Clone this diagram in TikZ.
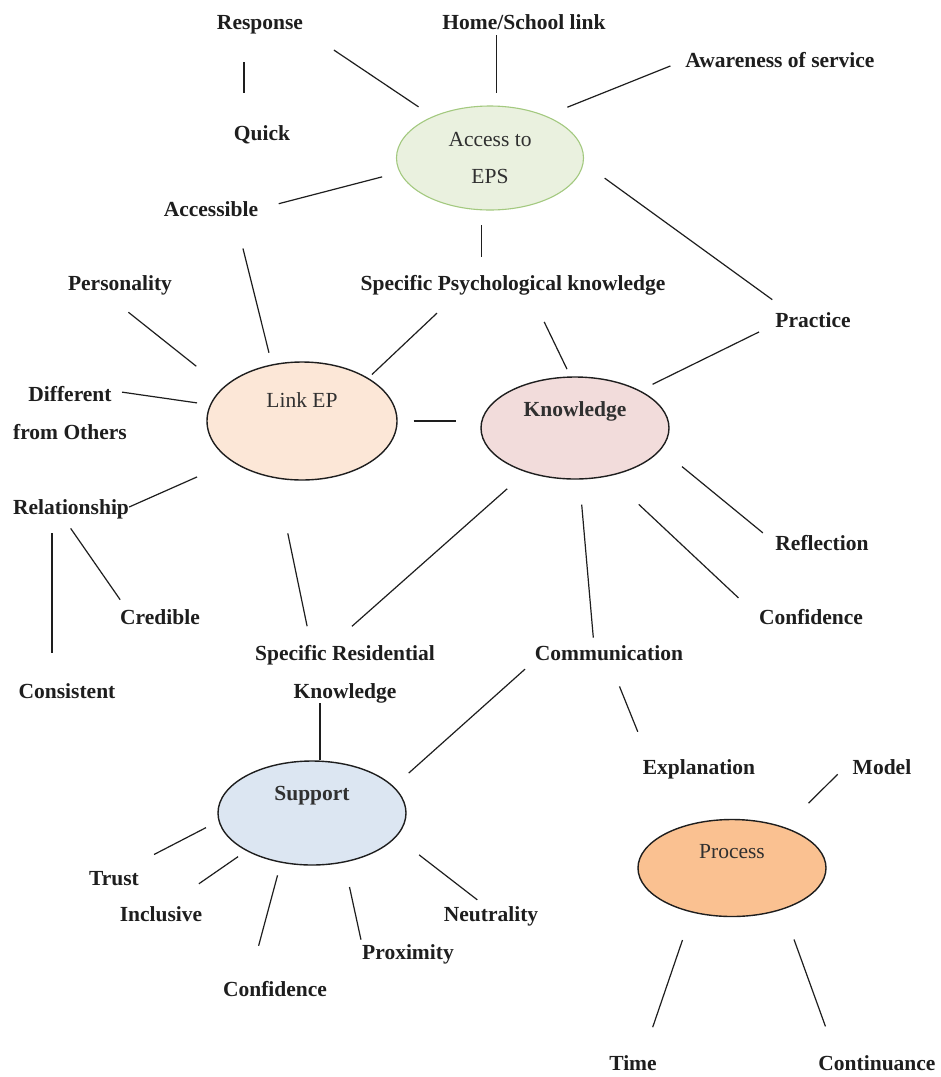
\documentclass[tikz,border=0pt]{standalone}
\usepackage{fontspec}
\setmainfont{Liberation Serif}
\usetikzlibrary{shapes.geometric}
\definecolor{epsfill}{HTML}{EAF1DF}
\definecolor{epsline}{HTML}{A3C97F}
\definecolor{linkfill}{HTML}{FCE7D7}
\definecolor{knowfill}{HTML}{F2DCDB}
\definecolor{suppfill}{HTML}{DCE6F2}
\definecolor{procfill}{HTML}{FAC191}
\definecolor{ink}{HTML}{1E1E1E}

\begin{document}
\begin{tikzpicture}[x=1pt,y=-1pt,
  oval/.style={ellipse,draw=ink,line width=1.4pt,inner sep=0pt,minimum width=188pt,minimum height=104pt},
  ovaltext/.style={font=\fontsize{21.5}{37}\selectfont,text=ink!92},
  tag/.style={font=\bfseries\fontsize{21.5}{38}\selectfont,text=ink,inner sep=0pt,text height=14.5pt,text depth=0pt},
  tags/.style={font=\bfseries\fontsize{21.5}{38}\selectfont,text=ink,inner sep=0pt,align=center},
  link/.style={draw=ink,line width=1.2pt}]
\useasboundingbox[fill=white] (0,0) rectangle (941,1077);

\node[oval,ovaltext,align=center,draw=epsline,line width=1.1pt,fill=epsfill,minimum width=187pt] (eps) at (490,158) {Access to\\EPS};
\node[oval,fill=linkfill,minimum width=190pt,minimum height=118pt,label={[ovaltext,yshift=21pt]center:Link EP}] (linkep) at (302,421) {};
\node[oval,fill=knowfill,minimum height=102pt,label={[ovaltext,yshift=17pt]center:\textbf{Knowledge}}] (know) at (575,428) {};
\node[oval,fill=suppfill,label={[ovaltext,yshift=17pt]center:\textbf{Support}}] (supp) at (312,813) {};
\node[oval,fill=procfill,minimum height=97pt,label={[ovaltext,yshift=16pt]center:Process}] (proc) at (732,868) {};

\node[tag] (resp) at (260,22) {Response};
\node[tag] (home) at (524,22) {Home/School link};
\node[tag] (aware) at (780,60) {Awareness of service};
\node[tag] (quick) at (262,133) {Quick};
\node[tag] (acc) at (211,209) {Accessible};
\node[tag] (pers) at (120,283) {Personality};
\node[tag] (psych) at (513,283) {Specific Psychological knowledge};
\node[tag] (pract) at (813,320) {Practice};
\node[tags] (diff) at (70,413) {Different\\from Others};
\node[tag] (rel) at (71,507) {Relationship};
\node[tag] (cred) at (160,617) {Credible};
\node[tag] (cons) at (67,691) {Consistent};
\node[tags] (resid) at (345,674) {Specific Residential\\Knowledge};
\node[tag] (comm) at (609,653) {Communication};
\node[tag] (refl) at (822,543) {Reflection};
\node[tag] (confk) at (811,617) {Confidence};
\node[tag] (expl) at (699,767) {Explanation};
\node[tag] (model) at (882,767) {Model};
\node[tag] (trust) at (114,878) {Trust};
\node[tag] (incl) at (161,914) {Inclusive};
\node[tag] (neut) at (491,914) {Neutrality};
\node[tag] (prox) at (408,952) {Proximity};
\node[tag] (confs) at (275,989) {Confidence};
\node[tag] (time) at (633,1063) {Time};
\node[tag] (cont) at (877,1063) {Continuance};

\draw[link,shorten <=33pt,shorten >=33pt] ([xshift=-16pt]resp.south) -- ([xshift=-18pt]quick.north);
\draw[link,shorten <=37pt,shorten >=17pt] (resp.south east) -- (eps.144);
\draw[link,shorten <=6pt,shorten >=13pt] (home.south -| eps.83) -- (eps.83);
\draw[link,shorten <=16pt,shorten >=23pt] (aware.west) -- (eps.37);
\draw[link,shorten <=21pt,shorten >=18pt] (acc.east) -- (eps.189);
\draw[link,shorten <=15pt,shorten >=19pt] (eps.261) -- (eps.261 |- psych.north);
\draw[link,shorten <=26pt,shorten >=22pt] (eps.357) -- (pract.162);
\draw[link,shorten <=33pt,shorten >=12pt] ([xshift=24pt]acc.south) -- (linkep.118);
\draw[link,shorten <=35pt,shorten >=34pt] ([xshift=-19pt]pers.south) -- (linkep.157);
\draw[link,shorten <=33pt,shorten >=5pt] ([xshift=-52pt]psych.south) -- (linkep.33);
\draw[link,shorten <=35pt,shorten >=8pt] ([xshift=16pt]psych.south) -- (know.95);
\draw[link,shorten <=18pt,shorten >=14pt] ([yshift=-4pt]pract.west) -- (know.30);
\draw[link,shorten >=13pt] ([xshift=-5pt,yshift=-6pt]diff.north east) -- (linkep.170);
\draw[link,shorten <=16pt,shorten >=24pt] (linkep.east) -- (linkep.east -| know.west);
\draw[link,shorten >=38pt] (rel.east) -- (linkep.210);
\draw[link,shorten <=19pt,shorten >=31pt] ([xshift=-19pt]rel.south) -- ([xshift=-15pt]cons.north);
\draw[link,shorten <=17pt,shorten >=12pt] ([xshift=-10pt]rel.south) -- ([xshift=-33pt]cred.north);
\draw[link,shorten <=56pt,shorten >=19pt] (linkep.246) -- ([xshift=-34pt]resid.north);
\draw[link,shorten <=25pt,shorten >=28pt] (know.222) -- ([xshift=-14pt]resid.north);
\draw[link,shorten <=25pt,shorten >=8pt] (know.275) -- ([xshift=-15pt]comm.north);
\draw[link,shorten <=41pt,shorten >=28pt] (know.305) -- (confk.west);
\draw[link,shorten <=27pt,shorten >=16pt] (know.346) -- (refl.west);
\draw[link,shorten <=13pt,shorten >=20pt] (comm.south west) -- (supp.18);
\draw[link,shorten <=28pt,shorten >=30pt] (comm.south) -- ([xshift=-50pt]expl.north);
\draw[link] ([xshift=-25pt]resid.south) -- ([xshift=8pt]supp.north);
\draw[link,shorten <=14pt,shorten >=35pt] (supp.185) -- ([xshift=9pt]trust.north);
\draw[link,shorten <=10pt,shorten >=40pt] (supp.210) -- ([xshift=5pt]incl.north);
\draw[link,shorten <=13pt,shorten >=37pt] (supp.238) -- ([xshift=-26pt]confs.north);
\draw[link,shorten <=25pt,shorten >=5pt] (supp.303) -- (prox.north west);
\draw[link,shorten <=29pt,shorten >=11pt] (supp.344) -- ([xshift=-5pt]neut.north);
\draw[link,shorten <=21pt,shorten >=34pt] (model.north west) -- (proc.38);
\draw[link,shorten <=29pt,shorten >=30pt] (proc.228) -- ([xshift=10pt]time.north);
\draw[link,shorten <=32pt,shorten >=31pt] (proc.321) -- ([xshift=-41pt]cont.north);
\end{tikzpicture}
\end{document}
